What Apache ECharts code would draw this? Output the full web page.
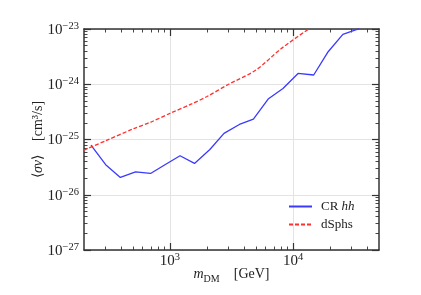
<!DOCTYPE html>
<html><head><meta charset="utf-8">
<script src="https://cdn.jsdelivr.net/npm/echarts@6/dist/echarts.min.js"></script>
<style>html,body{margin:0;padding:0;background:#fff}#c{width:421px;height:295px}</style>
</head><body><div id="c"></div>
<script>
// ---- data ----
const crMass = [228, 300, 395, 525, 695, 910, 1207, 1582, 2109, 2748, 3664, 4764, 6320, 8287, 10990, 14730, 19310, 25420, 32700, 34500];
const crSigma = [7.9e-26, 3.5e-26, 2.06e-26, 2.6e-26, 2.43e-26, 3.5e-26, 5.07e-26, 3.69e-26, 6.6e-26, 1.29e-25, 1.87e-25, 2.34e-25, 5.47e-25, 8.4e-25, 1.57e-24, 1.47e-24, 3.88e-24, 8.0e-24, 9.7e-24, 1.0e-23];
const dsMass = [200, 300, 500, 700, 1000, 1500, 2000, 3000, 5000, 8000, 13400];
const dsSigma = [6.4e-26, 9.5e-26, 1.55e-25, 2.07e-25, 2.97e-25, 4.4e-25, 6.0e-25, 1.0e-24, 1.81e-24, 4.4e-24, 1.0e-23];
const seriesNames = ['CR hh', 'dSphs'];
const xRange = [200, 50000];
const yRange = [1e-27, 1e-23];
const xMajorTicks = [1000, 10000];
const xMinorTicks = [300, 400, 500, 600, 700, 800, 900, 2000, 3000, 4000, 5000, 6000, 7000, 8000, 9000, 20000, 30000, 40000];
const yMajorTicks = [1e-27, 1e-26, 1e-25, 1e-24, 1e-23];
const yMinorMantissas = [2, 3, 4, 5, 6, 7, 8, 9];
const xLabelText = 'm';
const xLabelSub = 'DM';
const xLabelUnit = '[GeV]';
const yLabelText = '[cm³/s]';

// y is drawn on a linear axis of log10(value) (decade exponents)
const lg = v => Math.log10(v);
const yMajorExp = yMajorTicks.map(lg);
const yMinorExp = [];
yMajorTicks.slice(0, -1).forEach(d => yMinorMantissas.forEach(k => yMinorExp.push(lg(k * d))));

const F = 'Liberation Serif';
const ink = '#222';
const frame = '#333';
const supE = function (e) {
  return '{b|10}{s|' + String(Math.round(e)).replace('-', '\u2212') + '}';
};
const labRich = {
  b: { fontFamily: F, fontSize: 15, color: ink, verticalAlign: 'bottom', lineHeight: 17 },
  s: { fontFamily: F, fontSize: 10.5, color: ink, verticalAlign: 'top', lineHeight: 17 }
};
function xAx(pos, ticks, len, major) {
  return {
    type: 'log', position: pos, min: xRange[0], max: xRange[1], gridIndex: 0,
    axisLine: { show: major, onZero: false, lineStyle: { color: frame, width: 1.5 } },
    axisTick: { show: true, inside: true, length: len, customValues: ticks, lineStyle: { color: frame, width: major ? 1.2 : 0.9 } },
    axisLabel: { show: major && pos === 'bottom', customValues: ticks, formatter: v => supE(lg(v)), rich: labRich, margin: 2 },
    splitLine: { show: major && pos === 'bottom', lineStyle: { color: '#e3e3e3', width: 1 } },
    minorTick: { show: false }, minorSplitLine: { show: false }
  };
}
function yAx(pos, ticks, len, major) {
  return {
    type: 'value', position: pos, min: lg(yRange[0]), max: lg(yRange[1]), gridIndex: 0,
    axisLine: { show: major, onZero: false, lineStyle: { color: frame, width: 1.5 } },
    axisTick: { show: true, inside: true, length: len, customValues: ticks, lineStyle: { color: frame, width: major ? 1.2 : 0.9 } },
    axisLabel: { show: major && pos === 'left', customValues: ticks, formatter: supE, rich: labRich, margin: 5 },
    splitLine: { show: major && pos === 'left', lineStyle: { color: '#e3e3e3', width: 1 } },
    minorTick: { show: false }, minorSplitLine: { show: false }
  };
}
const xAxes = [xAx('bottom', xMajorTicks, 7, true), xAx('bottom', xMinorTicks, 3.5, false), xAx('top', xMajorTicks, 7, true), xAx('top', xMinorTicks, 3.5, false)];
xAxes[0].name = '{m|' + xLabelText + '}{d|' + xLabelSub + '}{u|    ' + xLabelUnit + '}';
xAxes[0].nameLocation = 'middle';
xAxes[0].nameGap = 17;
xAxes[0].nameMoveOverlap = false;
xAxes[0].nameTextStyle = { rich: {
  m: { fontFamily: F, fontStyle: 'italic', fontSize: 14, color: ink, verticalAlign: 'top', lineHeight: 17 },
  d: { fontFamily: F, fontSize: 10, color: ink, verticalAlign: 'bottom', lineHeight: 17 },
  u: { fontFamily: F, fontSize: 14, color: ink, verticalAlign: 'top', lineHeight: 17 }
}};
const yAxes = [yAx('left', yMajorExp, 7, true), yAx('left', yMinorExp, 3.5, false), yAx('right', yMajorExp, 7, true), yAx('right', yMinorExp, 3.5, false)];
yAxes[0].name = '{a|\u27E8}{g|\u03C3v}{a|\u27E9    ' + yLabelText + '}';
yAxes[0].nameLocation = 'middle';
yAxes[0].nameRotate = 90;
yAxes[0].nameGap = 39;
yAxes[0].nameMoveOverlap = false;
yAxes[0].nameTextStyle = { rich: {
  a: { fontFamily: F, fontSize: 14, color: ink },
  g: { fontFamily: F, fontStyle: 'italic', fontSize: 14, color: ink }
}};

const chart = echarts.init(document.getElementById('c'), null, { renderer: 'canvas' });
chart.setOption({
  backgroundColor: '#fff',
  animation: false,
  grid: { left: 84, right: 42, top: 29, bottom: 45, containLabel: false, outerBoundsMode: 'none' },
  xAxis: xAxes,
  yAxis: yAxes,
  legend: {
    orient: 'vertical', left: 283, top: 195, itemWidth: 23, itemHeight: 14, itemGap: 5,
    data: seriesNames,
    itemStyle: { color: 'rgba(0,0,0,0)', borderColor: 'rgba(0,0,0,0)', borderWidth: 0 },
    formatter: n => n === 'CR hh' ? '{r|CR }{i|hh}' : '{r|' + n + '}',
    textStyle: { padding: [0, 0, 0, 4], rich: {
      r: { fontFamily: F, fontSize: 13, color: ink },
      i: { fontFamily: F, fontStyle: 'italic', fontSize: 13, color: ink }
    }}
  },
  series: [
    { name: seriesNames[0], type: 'line', xAxisIndex: 0, yAxisIndex: 0, showSymbol: false, symbol: 'none', clip: true,
      data: crMass.map((m, i) => [m, lg(crSigma[i])]),
      lineStyle: { color: '#3a3aff', width: 1.3 }, itemStyle: { color: '#3a3aff' } },
    { name: seriesNames[1], type: 'line', xAxisIndex: 0, yAxisIndex: 0, showSymbol: false, symbol: 'none', clip: true, smooth: 0.3,
      data: dsMass.map((m, i) => [m, lg(dsSigma[i])]),
      lineStyle: { color: '#ff3030', width: 1.3, type: [4, 2] }, itemStyle: { color: '#ff3030' } }
  ]
});
</script></body></html>
